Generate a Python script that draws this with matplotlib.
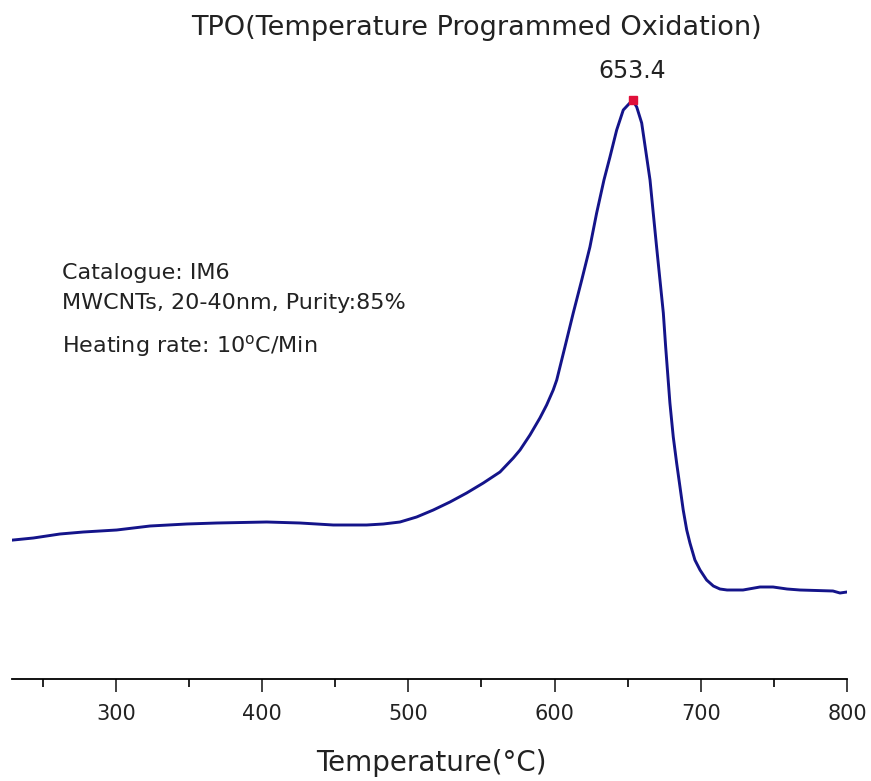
import matplotlib
matplotlib.use("Agg")
import matplotlib.pyplot as plt

# TPO curve (signal in arbitrary units)
temp = [229.9, 243.6, 261.8, 277.8, 300.6, 323.4, 348.5, 369.0, 403.2, 425.9,
        448.7, 471.5, 482.9, 494.3, 505.7, 517.1, 528.5, 539.9, 551.3, 562.7,
        571.8, 576.4, 583.2, 590.0, 594.6, 599.1, 601.5, 607.1, 612.8, 618.6,
        624.2, 628.8, 633.8, 637.9, 642.5, 647.0, 653.4, 656.2, 659.6, 663.0,
        665.3, 667.5, 669.8, 672.1, 674.4, 676.0, 677.4, 678.9, 681.2, 683.5,
        685.8, 688.0, 690.4, 692.6, 696.0, 699.5, 704.0, 708.6, 713.1, 718.0,
        728.9, 740.5, 749.4, 759.0, 767.8, 790.4, 795.2, 800.0]
signal = [139, 141, 145, 147, 149, 153, 155, 156, 157, 156,
          154, 154, 155, 157, 162, 169, 177, 186, 196, 207,
          221, 229, 244, 261, 274, 289, 299, 332, 366, 399,
          432, 466, 499, 522, 549, 569, 579, 572, 556, 522,
          499, 466, 432, 399, 366, 332, 305, 276, 242, 216,
          192, 169, 149, 136, 119, 109, 99, 93, 90, 89,
          89, 92, 92, 90, 89, 88, 86, 87]

peak_t = 653.4
peak_v = 579
xticks_major = [300, 400, 500, 600, 700, 800]
xticks_minor = [250, 350, 450, 550, 650, 750]
info_lines = ["Catalogue: IM6",
              "MWCNTs, 20-40nm, Purity:85%",
              "Heating rate: 10$^{\\mathrm{o}}$C/Min"]

plt.rcParams['font.family'] = ['DejaVu Sans']
plt.rcParams['mathtext.fontset'] = 'dejavusans'

fig = plt.figure(figsize=(8.71, 7.81), dpi=100)
ax = fig.add_axes([12 / 871, 102 / 781, 835 / 871, 619 / 781])

ax.plot(temp, signal, color='#14148a', lw=2.1)
ax.plot([peak_t], [peak_v], marker='s', color='#e0103a', ms=5.5, zorder=3)
ax.annotate(f"{peak_t}", (peak_t, peak_v), xytext=(0, 21), textcoords='offset points',
            ha='center', va='center', fontsize=17, color='#222222')

ax.set_xlim(229, 800)
ax.set_ylim(0, 619)
for s in ['top', 'right', 'left']:
    ax.spines[s].set_visible(False)
ax.spines['bottom'].set_linewidth(1.3)
ax.set_yticks([])
ax.set_xticks(xticks_major)
ax.set_xticks(xticks_minor, minor=True)
ax.tick_params(axis='x', which='major', direction='out', length=9, width=1.2,
               labelsize=15, pad=9, colors='#222222')
ax.tick_params(axis='x', which='minor', direction='out', length=5.5, width=1.2)
ax.set_xlabel("Temperature(°C)", fontsize=20, color='#222222', va='center')
ax.xaxis.set_label_coords((431 - 12) / 835, -84 / 619)

fig.text(476 / 871, 1 - 28 / 781, "TPO(Temperature Programmed Oxidation)",
         ha='center', va='center', fontsize=19.5, color='#222222')

ys = [273, 303, 346]
for line, y in zip(info_lines, ys):
    fig.text(62 / 871, 1 - y / 781, line, ha='left', va='center',
             fontsize=16, color='#222222')

fig.savefig("out.png", dpi=100)
